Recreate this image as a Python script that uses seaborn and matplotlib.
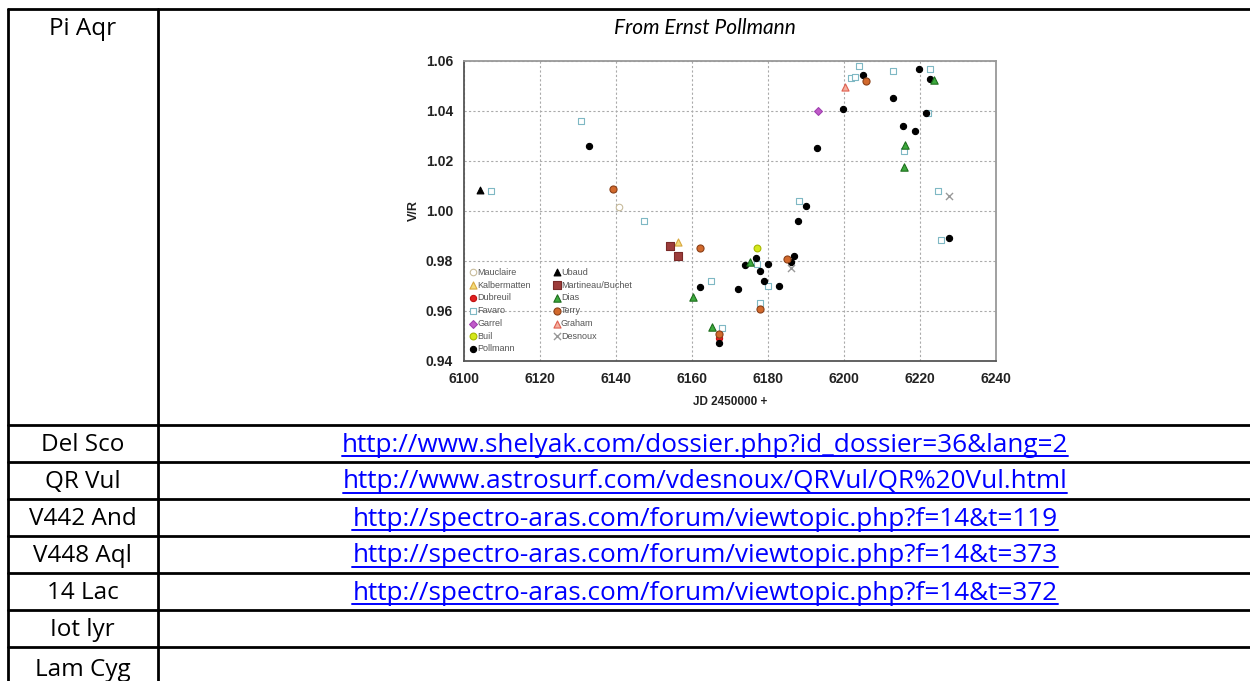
import numpy as np
import matplotlib
matplotlib.use("Agg")
import matplotlib.pyplot as plt
import seaborn as sns

# ---------------------------------------------------------
# table content
# ---------------------------------------------------------
row_names = ["Pi Aqr", "Del Sco", "QR Vul", "V442 And", "V448 Aql", "14 Lac", "Iot lyr", "Lam Cyg"]
row_links = [
    "",
    "http://www.shelyak.com/dossier.php?id_dossier=36&lang=2",
    "http://www.astrosurf.com/vdesnoux/QRVul/QR%20Vul.html",
    "http://spectro-aras.com/forum/viewtopic.php?f=14&t=119",
    "http://spectro-aras.com/forum/viewtopic.php?f=14&t=373",
    "http://spectro-aras.com/forum/viewtopic.php?f=14&t=372",
    "",
    "",
]
chart_caption = "From Ernst Pollmann"

# ---------------------------------------------------------
# V/R data per observer (JD 2450000 +)
# ---------------------------------------------------------
mauclaire_jd = [6140.9]
mauclaire_vr = [1.0017]

kalbermatten_jd = [6156.3]
kalbermatten_vr = [0.9878]

dubreuil_jd = [6167.1]
dubreuil_vr = [0.9491]

favaro_jd = [6107.0, 6130.9, 6147.3, 6165.0, 6168.0, 6177.0, 6178.0, 6180.1, 6188.1,
             6201.8, 6203.0, 6203.9, 6212.8, 6215.9, 6222.0, 6222.7, 6224.7, 6225.6]
favaro_vr = [1.0081, 1.0361, 0.9961, 0.9720, 0.9531, 0.9789, 0.9632, 0.9700, 1.0041,
             1.0533, 1.0536, 1.0581, 1.0560, 1.0241, 1.0393, 1.0567, 1.0081, 0.9884]

garrel_jd = [6193.1]
garrel_vr = [1.0400]

buil_jd = [6177.2]
buil_vr = [0.9851]

pollmann_jd = [6132.9, 6162.2, 6167.0, 6172.0, 6173.9, 6176.8, 6178.0, 6178.9, 6179.9,
               6183.0, 6186.0, 6186.8, 6187.8, 6189.9, 6192.9, 6199.7, 6204.9, 6212.8,
               6215.6, 6218.7, 6219.7, 6221.7, 6222.5, 6227.6]
pollmann_vr = [1.0260, 0.9696, 0.9471, 0.9688, 0.9784, 0.9811, 0.9760, 0.9720, 0.9789,
               0.9700, 0.9797, 0.9820, 0.9960, 1.0021, 1.0252, 1.0408, 1.0545, 1.0452,
               1.0339, 1.0319, 1.0567, 1.0393, 1.0527, 0.9891]

ubaud_jd = [6104.2]
ubaud_vr = [1.0084]

martineau_jd = [6154.2, 6156.2]
martineau_vr = [0.9861, 0.9821]

dias_jd = [6160.3, 6165.2, 6175.3, 6215.9, 6216.0, 6223.8]
dias_vr = [0.9657, 0.9537, 0.9796, 1.0177, 1.0265, 1.0524]

terry_jd = [6139.2, 6162.2, 6167.0, 6178.0, 6184.9, 6205.8]
terry_vr = [1.0089, 0.9851, 0.9509, 0.9607, 0.9809, 1.0521]

graham_jd = [6200.2]
graham_vr = [1.0497]

desnoux_jd = [6186.1, 6227.7]
desnoux_vr = [0.9773, 1.0060]

# observer, x, y, marker, face, edge, size
series = [
    ("Mauclaire", mauclaire_jd, mauclaire_vr, "o", "white", "#C8BC9C", 22),
    ("Kalbermatten", kalbermatten_jd, kalbermatten_vr, "^", "#F4DC7A", "#D8A840", 26),
    ("Dubreuil", dubreuil_jd, dubreuil_vr, "o", "#E02020", "#C01010", 20),
    ("Favaro", favaro_jd, favaro_vr, "s", "white", "#7FB8C4", 24),
    ("Garrel", garrel_jd, garrel_vr, "D", "#C05AC8", "#A040B0", 16),
    ("Buil", buil_jd, buil_vr, "o", "#D4E81A", "#A8B800", 24),
    ("Pollmann", pollmann_jd, pollmann_vr, "o", "black", "black", 20),
    ("Ubaud", ubaud_jd, ubaud_vr, "^", "black", "black", 24),
    ("Martineau/Buchet", martineau_jd, martineau_vr, "s", "#9C3C3A", "#7A2A28", 26),
    ("Dias", dias_jd, dias_vr, "^", "#3DAA3D", "#1E6E1E", 28),
    ("Terry", terry_jd, terry_vr, "o", "#D2692C", "#8A4018", 26),
    ("Graham", graham_jd, graham_vr, "^", "#F4B0A0", "#E06050", 26),
    ("Desnoux", desnoux_jd, desnoux_vr, "x", "#999999", "#999999", 26),
]

# ---------------------------------------------------------
# figure + table frame (pixel coordinates)
# ---------------------------------------------------------
sns.set_style("white")
table_font = ["Open Sans", "DejaVu Sans"]
caption_font = ["Lato", "DejaVu Sans"]
chart_font = ["Liberation Sans", "DejaVu Sans"]

W, H = 1250, 681
fig = plt.figure(figsize=(W / 100, H / 100), dpi=100)
ax_tab = fig.add_axes([0, 0, 1, 1])
ax_tab.set_xlim(0, W)
ax_tab.set_ylim(H, 0)
ax_tab.axis("off")

row_edges = [9, 424.5, 461.5, 498.5, 535.5, 572.5, 610, 647, 690]
col_left, col_div = 7.5, 157.5
line_kw = dict(color="black", linewidth=2.0)

for y in row_edges[:-1]:
    ax_tab.plot([col_left, W], [y, y], **line_kw)
ax_tab.plot([col_left, col_left], [row_edges[0], H], **line_kw)
ax_tab.plot([col_div, col_div], [row_edges[0], H], **line_kw)

link_texts = []
for i, name in enumerate(row_names):
    top = row_edges[i]
    yc = (top + row_edges[i + 1]) / 2 + 2 if i > 0 else 29
    ax_tab.text((col_left + col_div) / 2, yc, name, ha="center", va="center",
                fontsize=17.5, family=table_font, color="black")
    if row_links[i]:
        t = ax_tab.text(705, yc, row_links[i], ha="center", va="center",
                        fontsize=18.8, family=table_font, color="#0000FF")
        link_texts.append(t)

ax_tab.text(705, 28, chart_caption, ha="center", va="center", fontsize=15,
            family=caption_font, style="italic", color="black")

# underline the links
fig.canvas.draw()
renderer = fig.canvas.get_renderer()
inv = ax_tab.transData.inverted()
for t in link_texts:
    bb = t.get_window_extent(renderer)
    (x0, y0), (x1, y1) = inv.transform([[bb.x0, bb.y0], [bb.x1, bb.y1]])
    ax_tab.plot([x0, x1], [y0 - 2, y0 - 2], color="#0000FF", linewidth=1.4)

# ---------------------------------------------------------
# V/R scatter chart
# ---------------------------------------------------------
ax = fig.add_axes([464 / W, (H - 361) / H, 532 / W, 300 / H])

for name, jd, vr, marker, face, edge, size in series:
    sns.scatterplot(x=jd, y=vr, marker=marker, s=size, color=edge,
                    facecolor=face if marker != "x" else None,
                    edgecolor=edge, linewidth=0.8 if marker != "x" else 1.0,
                    label=name, ax=ax, zorder=3)

ax.set_xlim(6100, 6240)
ax.set_ylim(0.94, 1.06)
ax.set_xticks(np.arange(6100, 6241, 20))
ax.set_xticks(np.arange(6100, 6241, 10), minor=True)
ax.set_yticks(np.arange(0.94, 1.061, 0.02))
ax.set_yticklabels([f"{v:.2f}" for v in np.arange(0.94, 1.061, 0.02)])

ax.grid(True, which="major", color="#AAAAAA", linestyle=(0, (2, 2)), linewidth=0.8)
ax.set_axisbelow(True)

for side in ["left", "bottom"]:
    ax.spines[side].set_color("#555555")
    ax.spines[side].set_linewidth(1.3)
for side in ["top", "right"]:
    ax.spines[side].set_color("#999999")
    ax.spines[side].set_linewidth(1.3)
    ax.spines[side].set_visible(True)

ax.tick_params(axis="both", which="both", direction="in", length=4, width=1,
               color="#555555")
ax.tick_params(axis="y", pad=8)
ax.tick_params(axis="x", pad=8)
for lab in ax.get_xticklabels() + ax.get_yticklabels():
    lab.set_fontfamily(chart_font)
    lab.set_fontweight("bold")
    lab.set_fontsize(10)
    lab.set_color("#222222")

ax.set_xlabel("JD 2450000 +", fontsize=8.5, fontweight="bold", family=chart_font,
              color="#222222", labelpad=7)
ax.set_ylabel("V/R", fontsize=9, fontweight="bold", family=chart_font,
              color="#222222", labelpad=4)

leg = ax.legend(loc="upper left", bbox_to_anchor=(0.0, 0.332), ncol=2,
                frameon=False, handlelength=0.6, handletextpad=0.15,
                labelspacing=0.42, columnspacing=2.6, borderaxespad=0.3,
                prop={"family": chart_font, "size": 6.5})
for txt in leg.get_texts():
    txt.set_color("#555555")

fig.savefig("out.png", dpi=100)
